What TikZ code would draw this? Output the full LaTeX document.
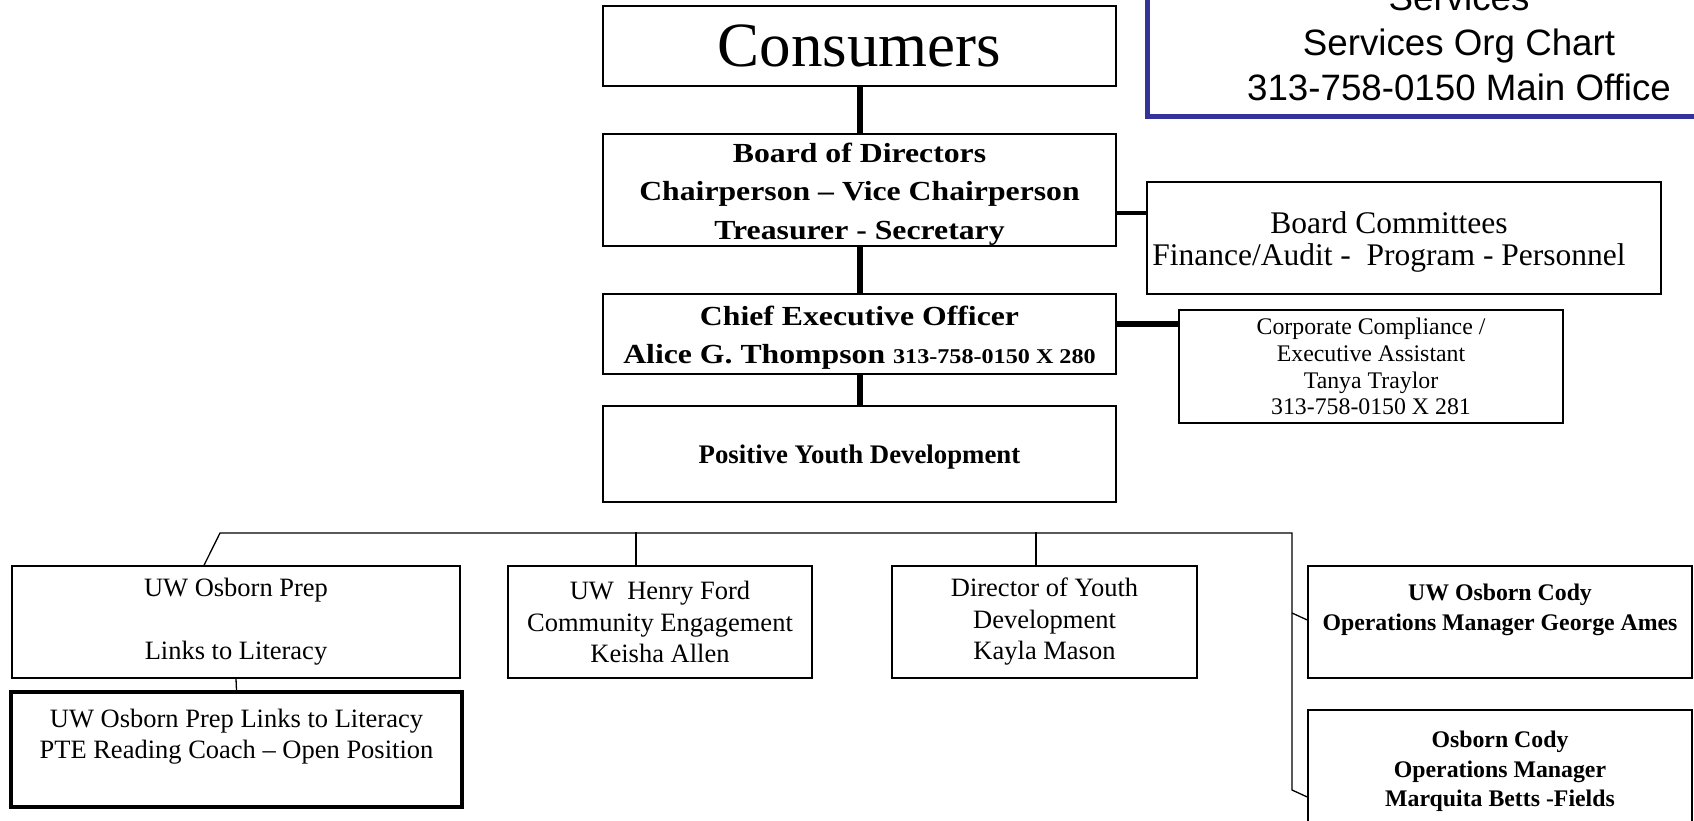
\documentclass[tikz,border=0pt]{standalone}
\usepackage{graphicx}
\usepackage{fontspec}
\setmainfont{Liberation Serif}
\newfontfamily\arialfont{Liberation Sans}
\definecolor{frameblue}{RGB}{51,51,153}
\newcommand\widetext[1]{\scalebox{1.15}[1]{#1}}
\begin{document}
\begin{tikzpicture}[x=1pt,y=-1pt,
  box/.style={draw, line width=1.4pt, inner sep=0pt, align=center, text=black},
  boxtext/.style={inner sep=0pt, align=center, text=black},
  link/.style={line width=1.3pt},
  heavylink/.style={line width=6pt},
  midlink/.style={line width=4.5pt},
  bottomfont/.style={font=\fontsize{26.5}{31.5}\selectfont},
  codyfont/.style={font=\bfseries\fontsize{23.8}{29.5}\selectfont},
  titlefont/.style={font=\arialfont\fontsize{36.7}{44}\selectfont, anchor=base}
]
\useasboundingbox (0,0) rectangle (1694,820);
\clip (0,0) rectangle (1694,820);
\fill[white] (0,0) rectangle (1694,820);

% title box (partly off the page)
\node[draw=frameblue, line width=5pt, minimum width=640pt, minimum height=260pt, inner sep=0pt] (title) at (1467,-13.5) {};
\node[titlefont] (t1) at (1459,10) {Services};
\node[titlefont] (t2) at (1459,55) {Services Org Chart};
\node[titlefont] (t3) at (1459,100) {313-758-0150 Main Office};

% central column
\node[box, minimum width=513pt, minimum height=80pt, font=\fontsize{63}{70}\selectfont] (cons) at (859.5,46) {Consumers};
\node[box, minimum width=513pt, minimum height=112pt] (board) at (859.5,190) {};
\node[boxtext, font=\bfseries\fontsize{27.6}{38.5}\selectfont] (boardtext) at ([yshift=-4pt]board.center)
  {\widetext{Board of Directors}\\\widetext{Chairperson -- Vice Chairperson}\\\widetext{Treasurer - Secretary}};
\node[box, minimum width=513pt, minimum height=80pt] (ceo) at (859.5,334) {};
\node[boxtext, font=\bfseries\fontsize{27.6}{38.3}\selectfont] (ceotext) at ([yshift=-3.7pt]ceo.center)
  {\widetext{Chief Executive Officer}\\\widetext{Alice G. Thompson {\fontsize{21}{38.3}\selectfont 313-758-0150 X 280}}};
\node[box, minimum width=513pt, minimum height=96pt, font=\bfseries\fontsize{26.8}{32}\selectfont] (pyd) at (859.5,454)
  {\rule{0pt}{25pt}Positive Youth Development};

% side boxes
\node[box, minimum width=514pt, minimum height=112pt, font=\fontsize{31.5}{31.5}\selectfont] (comm) at (1404,238)
  {\rule{0pt}{29.5pt}Board Committees\hspace*{30pt}\\Finance/Audit -\ \ Program - Personnel\hspace*{30pt}};
\node[box, minimum width=384pt, minimum height=113pt, font=\fontsize{23.8}{26.7}\selectfont] (corp) at (1371,366.5)
  {Corporate Compliance /\\Executive Assistant\\Tanya Traylor\\313-758-0150 X 281};

% bottom row
\node[box, bottomfont, minimum width=448pt, minimum height=112pt] (prep) at (236,622)
  {UW Osborn Prep\\~\\Links to Literacy};
\node[box, bottomfont, line width=4pt, minimum width=451pt, minimum height=115pt] (coach) at (236.5,749.5)
  {UW Osborn Prep Links to Literacy\\PTE Reading Coach -- Open Position\\~};
\node[box, bottomfont, minimum width=304pt, minimum height=112pt] (ford) at (660,622)
  {UW\ \ Henry Ford\\Community Engagement\\Keisha Allen};
\node[box, bottomfont, minimum width=305pt, minimum height=112pt] (dir) at (1044.5,622)
  {Director of Youth\\Development\\Kayla Mason};
\node[box, codyfont, minimum width=384pt, minimum height=112pt] (cody) at (1500,622)
  {UW Osborn Cody\\Operations Manager George Ames\\~};
\node[box, codyfont, minimum width=384pt, minimum height=114pt] (cody2) at (1500,767)
  {\rule{0pt}{25.5pt}Osborn Cody\\Operations Manager\\Marquita Betts -Fields};

% heavy connectors
\draw[heavylink] (cons.south) -- (board.north);
\draw[heavylink] (board.south) -- (ceo.north);
\draw[heavylink] (ceo.south) -- (pyd.north);
\draw[midlink] ([yshift=-23pt]board.east) -- ([yshift=25pt]comm.west);
\draw[heavylink] ([yshift=10pt]ceo.east) -- ([yshift=42.5pt]corp.west);

% branch connectors
\coordinate (bl) at (220,533);
\coordinate (br) at (1292,533);
\coordinate (j1) at (1292,613);
\coordinate (j2) at (1292,790);
\draw[link] ([xshift=-32pt]prep.north) -- (bl) -- (br) -- (j2) -- ([yshift=-30pt]cody2.west);
\draw[link] (j1) -- ([yshift=2pt]cody.west);
\draw[link] ([xshift=-24pt]ford.north) -- ++(0,-33);
\draw[link] ([xshift=-8.5pt]dir.north) -- ++(0,-33);
\draw[link] (prep.south) -- (coach.north);
\end{tikzpicture}
\end{document}
